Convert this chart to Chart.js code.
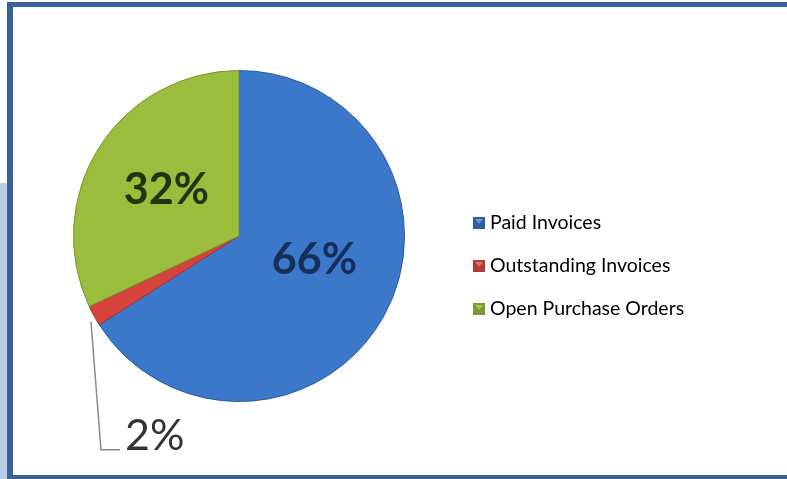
<!DOCTYPE html>
<html>
<head>
<meta charset="utf-8">
<script src="https://cdn.jsdelivr.net/npm/chart.js@4"></script>
<style>
  html, body { margin: 0; padding: 0; background: #fff; overflow: hidden; }
  #wrap { position: relative; width: 787px; height: 479px; overflow: hidden; }
  #band { position: absolute; left: 0; top: 183px; width: 7px; height: 296px; background: #b8cce4; }
  #frame { position: absolute; left: 7px; top: 2px; right: -10px; bottom: -1px; border: 5px solid #3b6196; border-left-width: 6px; }
  #chart { position: absolute; left: 0; top: 0; }
</style>
</head>
<body>
<div id="wrap">
  <div id="band"></div>
  <div id="frame"></div>
  <canvas id="chart" width="787" height="479"></canvas>
</div>
<script>
const labels = ['Paid Invoices', 'Outstanding Invoices', 'Open Purchase Orders'];
const values = [66, 2, 32];
const pctLabels = ['66%', '2%', '32%'];

// colores del pastel (claro, medio, borde)
const lightColors = ['#4c8bdb', '#e25a52', '#b0d052'];
const midColors = ['#3b78c9', '#d6423c', '#9bbd3e'];
const darkColors = ['#2a5a9e', '#a8302c', '#76952a'];
const legendColors = ['#2f5f9f', '#b33a36', '#7a9835'];
const legendLight = ['#6a9ad6', '#e07470', '#a8c35e'];
const labelColors = ['#17305a', '#333333', '#22330f'];
const labelNudgeY = [-17, 0, 0]; // ajuste vertical de etiquetas internas

function sliceFill(ctx) {
    const chart = ctx.chart;
    const i = ctx.dataIndex;
    const el = chart.getDatasetMeta(0).data[i];
    if (!el || !el.outerRadius) return midColors[i];
    const g = chart.ctx.createRadialGradient(el.x, el.y, 0, el.x, el.y, el.outerRadius);
    g.addColorStop(0, lightColors[i]);
    g.addColorStop(0.8, midColors[i]);
    g.addColorStop(0.95, midColors[i]);
    g.addColorStop(1, darkColors[i]);
    return g;
}

const labelPlugin = {
    id: 'pctLabels',
    afterDatasetsDraw(chart) {
        const ctx = chart.ctx;
        const arcs = chart.getDatasetMeta(0).data;
        ctx.save();
        arcs.forEach((arc, i) => {
            const mid = (arc.startAngle + arc.endAngle) / 2;
            const r = arc.outerRadius;
            if (values[i] < 5) {
                // etiqueta externa con línea guía
                const sx = arc.x + Math.cos(mid) * r;
                const sy = arc.y + Math.sin(mid) * r;
                ctx.strokeStyle = '#8a8a8a';
                ctx.lineWidth = 1.5;
                ctx.beginPath();
                ctx.moveTo(sx - 3, sy + 6);
                ctx.lineTo(sx + 7, sy + 134);
                ctx.lineTo(sx + 26, sy + 134);
                ctx.stroke();
                ctx.font = '43px Lato';
                ctx.fillStyle = labelColors[i];
                ctx.textAlign = 'left';
                ctx.textBaseline = 'alphabetic';
                ctx.fillText(pctLabels[i], sx + 31, sy + 134);
            } else {
                const k = 0.52;
                const x = arc.x + Math.cos(mid) * r * k;
                const y = arc.y + Math.sin(mid) * r * k + labelNudgeY[i];
                ctx.font = 'bold 43px Lato';
                ctx.fillStyle = labelColors[i];
                ctx.textAlign = 'center';
                ctx.textBaseline = 'middle';
                ctx.fillText(pctLabels[i], x, y);
            }
        });
        ctx.restore();
    }
};

const legendPlugin = {
    id: 'sideLegend',
    afterDraw(chart) {
        const ctx = chart.ctx;
        ctx.save();
        labels.forEach((lab, i) => {
            const y = 223 + i * 43;
            ctx.fillStyle = legendColors[i];
            ctx.fillRect(473, y - 6, 12, 12);
            ctx.fillStyle = legendLight[i];
            ctx.beginPath();
            ctx.moveTo(475, y - 4);
            ctx.lineTo(483, y - 4);
            ctx.lineTo(479, y + 1);
            ctx.closePath();
            ctx.fill();
            ctx.font = '19.5px Lato';
            ctx.fillStyle = '#000';
            ctx.textAlign = 'left';
            ctx.textBaseline = 'middle';
            ctx.fillText(lab, 490, y);
        });
        ctx.restore();
    }
};

new Chart(document.getElementById('chart').getContext('2d'), {
    type: 'pie',
    data: {
        labels,
        datasets: [{
            data: values,
            backgroundColor: sliceFill,
            borderColor: darkColors,
            borderWidth: 1
        }]
    },
    options: {
        responsive: false,
        animation: false,
        layout: { padding: { left: 73, top: 70, right: 382, bottom: 77 } },
        plugins: {
            legend: { display: false },
            tooltip: { enabled: false }
        }
    },
    plugins: [labelPlugin, legendPlugin]
});
</script>
</body>
</html>
